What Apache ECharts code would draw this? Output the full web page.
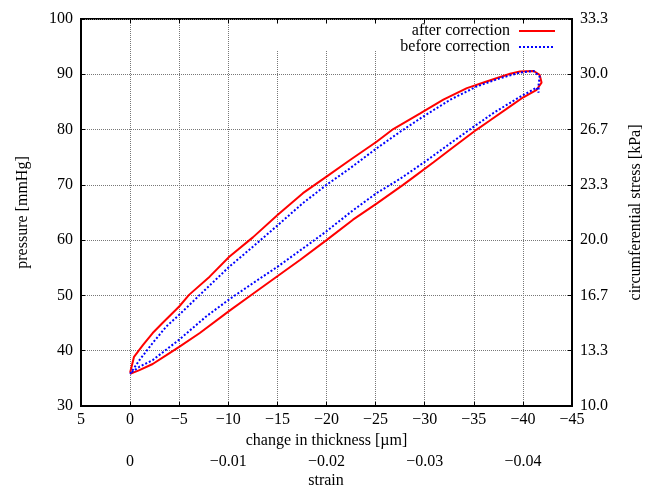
<!DOCTYPE html>
<html>
<head>
<meta charset="utf-8">
<script src="https://cdn.jsdelivr.net/npm/echarts@6/dist/echarts.min.js"></script>
<style>
  html, body { margin: 0; padding: 0; background: #fff; }
  #chart { width: 656px; height: 490px; }
</style>
</head>
<body>
<div id="chart"></div>
<script>
// after correction (red): loop, upper branch out, lower branch back
const afterThickness = [0, -0.4, -1.3, -2.3, -3.3, -5.0, -6.0, -8.1, -10.1, -12.5, -15.1, -17.6, -20.0, -22.4, -25.1, -26.8, -29.5, -31.9, -34.3, -36.3, -38.7, -39.7, -41.1, -41.7, -41.9, -41.4,
  -40.0, -38.7, -36.6, -35.3, -32.9, -30.9, -28.8, -27.8, -25.1, -22.7, -20.0, -17.3, -15.1, -12.2, -10.1, -7.1, -5.0, -3.7, -2.3, -0.95, 0];
const afterPressure = [36.0, 38.9, 41.0, 43.2, 45.0, 48.0, 50.1, 53.4, 57.0, 60.5, 64.7, 68.5, 71.5, 74.5, 77.8, 80.1, 82.9, 85.4, 87.5, 88.7, 90.1, 90.5, 90.6, 89.9, 88.5, 87.2,
  85.8, 84.2, 81.6, 80.0, 76.8, 74.1, 71.3, 70.0, 66.6, 63.7, 60.0, 56.4, 53.6, 49.9, 47.2, 43.2, 40.7, 39.2, 37.6, 36.5, 35.8];

// before correction (blue)
const beforeThickness = [0, -0.95, -2.3, -3.7, -5.0, -7.1, -10.1, -12.5, -15.1, -17.6, -20.0, -22.4, -25.1, -27.5, -29.8, -32.6, -35.3, -37.7, -39.7, -41.1, -41.7, -41.6, -41.6, -41.4,
  -39.4, -37.0, -34.9, -32.6, -30.2, -27.5, -25.1, -22.7, -20.0, -17.6, -15.1, -12.5, -10.1, -7.75, -5.0, -2.3, -0.95, 0];
const beforePressure = [35.8, 38.3, 41.4, 44.4, 46.5, 50.1, 55.2, 58.8, 62.8, 66.7, 70.0, 73.0, 76.6, 79.6, 82.3, 85.4, 87.8, 89.3, 90.3, 90.6, 89.6, 88.1, 86.7, 87.6,
  85.6, 83.0, 80.4, 77.5, 74.4, 71.1, 68.5, 65.4, 61.6, 58.5, 55.3, 52.2, 49.3, 46.2, 42.0, 38.3, 37.1, 35.9];

// strain tick labels; strain = thickness[µm] / 1000
const strainLabels = [0, -0.01, -0.02, -0.03, -0.04];

const FONT = 'Liberation Serif';
const minus = s => String(s).replace('-', '\u2212');
const pairs = (xs, ys) => xs.map((x, i) => [x, ys[i]]);

const chart = echarts.init(document.getElementById('chart'));

const tickStyle = { show: true, inside: true, length: 4, lineStyle: { color: '#000', width: 1 } };
const labelStyle = { fontFamily: FONT, fontSize: 16, color: '#000' };

chart.setOption({
  animation: false,
  textStyle: { fontFamily: FONT },
  grid: { left: 81, right: 84, top: 19, bottom: 84, show: true, borderColor: '#000', borderWidth: 2, backgroundColor: 'transparent' },
  legend: {
    right: 100, top: 23, orient: 'vertical', align: 'right', padding: 0, itemGap: 0,
    itemWidth: 36, itemHeight: 14,
    itemStyle: { opacity: 0 },
    textStyle: { fontFamily: FONT, fontSize: 16, color: '#000', padding: [0, 4, 0, 0] },
    data: ['after correction', 'before correction']
  },
  graphic: [
    {
      type: 'rect', z: 1, silent: true,
      shape: { x: 252, y: 24, width: 318, height: 26 },
      style: { fill: '#fff' }
    },
    {
      // name of the strain axis
      type: 'text', silent: true, x: 326, y: 481,
      style: { text: 'strain', font: '16px "Liberation Serif"', fill: '#000', align: 'center', verticalAlign: 'middle' }
    }
  ],
  xAxis: [
    {
      type: 'value', position: 'bottom', min: -45, max: 5, interval: 5, inverse: true,
      name: 'change in thickness [\u00b5m]', nameLocation: 'middle', nameGap: 22,
      nameTextStyle: labelStyle,
      axisLine: { show: true, onZero: false, lineStyle: { color: '#000', width: 2 } },
      axisTick: tickStyle,
      axisLabel: Object.assign({ margin: 6, formatter: v => minus(v) }, labelStyle),
      splitLine: { show: true, lineStyle: { color: '#777', type: 'dotted', width: 1 } }
    },
    {
      type: 'value', position: 'bottom', offset: 42, min: -45, max: 5, interval: 5, inverse: true,
      axisLine: { show: false, onZero: false }, axisTick: { show: false }, splitLine: { show: false },
      axisLabel: Object.assign({
        margin: 6,
        formatter: v => {
          const hit = strainLabels.find(s => Math.abs(s * 1000 - v) < 1e-6);
          return hit === undefined ? '' : minus(hit);
        }
      }, labelStyle)
    },
    {
      type: 'value', position: 'top', min: -45, max: 5, interval: 5, inverse: true,
      axisLine: { show: false, onZero: false }, axisTick: tickStyle, axisLabel: { show: false }, splitLine: { show: false }
    }
  ],
  yAxis: [
    {
      type: 'value', position: 'left', min: 30, max: 100, interval: 10,
      name: 'pressure [mmHg]', nameLocation: 'middle', nameGap: 50, nameRotate: 90,
      nameTextStyle: labelStyle,
      axisLine: { show: true, onZero: false, lineStyle: { color: '#000', width: 2 } },
      axisTick: tickStyle,
      axisLabel: Object.assign({ margin: 8 }, labelStyle),
      splitLine: { show: true, lineStyle: { color: '#777', type: 'dotted', width: 1 } }
    },
    {
      type: 'value', position: 'right', min: 30, max: 100, interval: 10,
      name: 'circumferential stress [kPa]', nameLocation: 'middle', nameGap: 56, nameRotate: 90,
      nameTextStyle: labelStyle,
      axisLine: { show: true, onZero: false, lineStyle: { color: '#000', width: 2 } },
      axisTick: tickStyle,
      axisLabel: Object.assign({ margin: 8, formatter: v => (v / 3).toFixed(1) }, labelStyle),
      splitLine: { show: false }
    }
  ],
  series: [
    {
      name: 'after correction', type: 'line', xAxisIndex: 0, yAxisIndex: 0,
      symbol: 'none', data: pairs(afterThickness, afterPressure),
      lineStyle: { color: '#ff0000', width: 2 }, itemStyle: { color: '#ff0000' }, z: 3
    },
    {
      name: 'before correction', type: 'line', xAxisIndex: 0, yAxisIndex: 0,
      symbol: 'none', data: pairs(beforeThickness, beforePressure),
      lineStyle: { color: '#0000ff', width: 2, type: [2, 2] }, itemStyle: { color: '#0000ff' }, z: 4
    }
  ]
});
</script>
</body>
</html>
